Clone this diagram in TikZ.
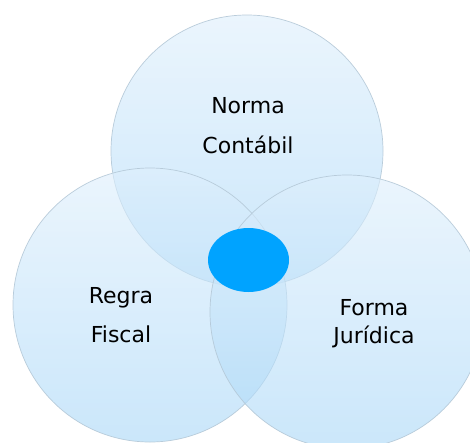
\documentclass[tikz,border=0pt]{standalone}
\usepackage{fontspec}
\setmainfont{DejaVu Sans}
\usetikzlibrary{shapes.geometric}
\definecolor{ctop}{RGB}{222,239,252}
\definecolor{cbot}{RGB}{168,215,248}
\definecolor{cline}{RGB}{180,200,215}
\definecolor{cdot}{RGB}{0,163,255}
\tikzset{
  venn/.style={top color=ctop, bottom color=cbot, fill opacity=0.6, draw=cline, line width=0.7pt, draw opacity=0.9},
  lbl/.style={align=center, text=black, font=\fontsize{22}{40}\selectfont, inner sep=0pt},
}
\begin{document}
\begin{tikzpicture}[x=1pt,y=-1pt]
\useasboundingbox (0,0) rectangle (470,442);
\clip (0,0) rectangle (470,442);
\fill[white] (0,0) rectangle (470,442);
\shadedraw[venn] (247,151) circle[radius=136];
\shadedraw[venn] (150,305) circle[radius=137];
\shadedraw[venn] (347,312) circle[radius=137];
\node[fill=cdot, ellipse, minimum width=81pt, minimum height=64pt, inner sep=0pt] (core) at (248.5,260) {};
\node[lbl, anchor=base] (n1) at (248,113) {Norma};
\node[lbl, anchor=base] (n2) at (248,153) {Contábil};
\node[lbl, anchor=base] (r1) at (121,303) {Regra};
\node[lbl, anchor=base] (r2) at (121,342) {Fiscal};
\node[lbl, anchor=base] (f1) at (374,315) {Forma};
\node[lbl, anchor=base] (f2) at (374,343) {Jurídica};
\end{tikzpicture}
\end{document}
